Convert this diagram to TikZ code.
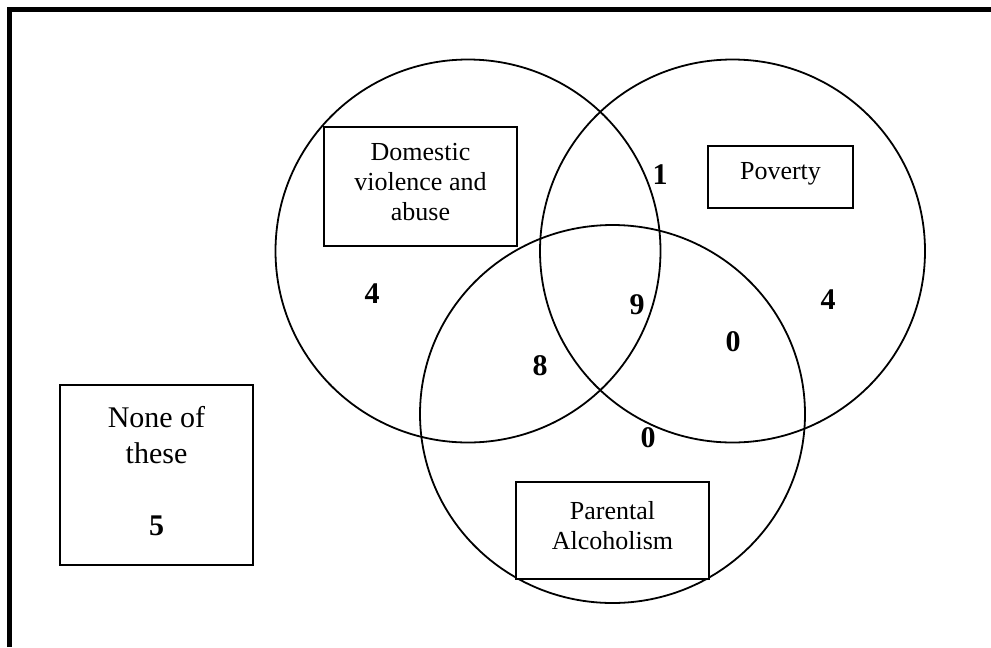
\documentclass[tikz,border=0pt]{standalone}
\usepackage{fontspec}
\setmainfont{Liberation Serif}
\usetikzlibrary{calc}
\begin{document}
\begin{tikzpicture}[x=0.75pt,y=-0.75pt,
  ring/.style={draw=black,line width=1.35pt},
  boxframe/.style={draw=black,line width=1.5pt,fill=white,inner sep=0pt},
  lbl/.style={align=center,inner sep=0pt,font=\fontsize{19.5}{22.5}\selectfont},
  bigl/.style={align=center,inner sep=0pt,font=\fontsize{22.5}{27}\selectfont},
  num/.style={inner sep=0pt,font=\fontsize{22.5}{27}\selectfont\bfseries}]
\useasboundingbox (0,0) rectangle (991,647);
% frame
\draw[line width=3.75pt,line join=miter] (9.5,647) -- (9.5,9) -- (991,9);
% circles
\draw[ring] (468,251) ellipse [x radius=192.5, y radius=191.5];
\draw[ring] (732.5,251) ellipse [x radius=192.5, y radius=191.5];
\draw[ring] (612.5,414) ellipse [x radius=192.5, y radius=189];
% boxes
\node[boxframe,minimum width=193*0.75pt,minimum height=119*0.75pt] (dombox) at (420.5,186.5) {};
\node[lbl] (domtext) at ($(dombox.center)+(0,-4)$) {Domestic\\violence and\\abuse};
\node[boxframe,minimum width=145*0.75pt,minimum height=62*0.75pt] (povbox) at (780.5,177) {};
\node[lbl] (povtext) at ($(povbox.center)+(0,-3)$) {Poverty};
\node[boxframe,minimum width=193*0.75pt,minimum height=97*0.75pt] (parbox) at (612.5,530.5) {};
\node[lbl] (partext) at ($(parbox.center)+(0,-5)$) {Parental\\Alcoholism};
\node[boxframe,minimum width=193*0.75pt,minimum height=180*0.75pt] (nonebox) at (156.5,475) {};
\node[bigl] (nonetext) at ($(nonebox.center)+(0,-4)$) {None of\\these\\[27pt]\textbf{5}};
% numbers
\node[num] (n1) at (660,175) {1};
\node[num] (n4a) at (372,294) {4};
\node[num] (n9) at (637,305) {9};
\node[num] (n4b) at (828,300) {4};
\node[num] (n0a) at (733,342) {0};
\node[num] (n8) at (540,366) {8};
\node[num] (n0b) at (648,438) {0};
\end{tikzpicture}
\end{document}
